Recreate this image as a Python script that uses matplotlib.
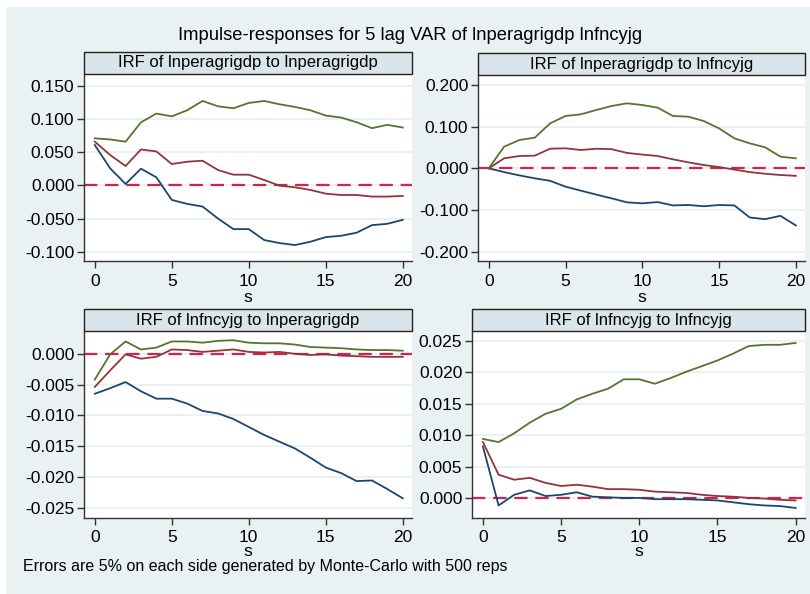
import numpy as np
import matplotlib
matplotlib.use('Agg')
import matplotlib.pyplot as plt
from matplotlib.patches import Rectangle

plt.rcParams['font.family'] = ['Liberation Sans', 'DejaVu Sans']

steps = list(range(21))

# panel 1: lnperagrigdp -> lnperagrigdp
p1_lo = [0.0607, 0.0255, 0.002, 0.025, 0.012, -0.022, -0.028, -0.032, -0.050, -0.066, -0.066,
         -0.0824, -0.087, -0.090, -0.085, -0.078, -0.076, -0.0714, -0.060, -0.058, -0.052]
p1_irf = [0.0657, 0.0456, 0.029, 0.054, 0.051, 0.032, 0.0355, 0.037, 0.023, 0.016, 0.016,
          0.008, -0.0006, -0.003, -0.007, -0.0126, -0.0146, -0.0146, -0.017, -0.017, -0.016]
p1_hi = [0.0707, 0.069, 0.0657, 0.0948, 0.108, 0.1038, 0.113, 0.127, 0.119, 0.116, 0.124,
         0.127, 0.122, 0.118, 0.113, 0.105, 0.102, 0.095, 0.086, 0.091, 0.087]

# panel 2: lnperagrigdp -> lnfncyjg
p2_lo = [0.0, -0.009, -0.017, -0.024, -0.030, -0.044, -0.0536, -0.063, -0.072, -0.0816, -0.084,
         -0.081, -0.089, -0.088, -0.091, -0.088, -0.089, -0.118, -0.122, -0.114, -0.137]
p2_irf = [0.0, 0.024, 0.0296, 0.0304, 0.0472, 0.048, 0.044, 0.047, 0.046, 0.037, 0.033,
          0.0296, 0.0216, 0.0144, 0.008, 0.003, -0.003, -0.009, -0.013, -0.016, -0.018]
p2_hi = [0.0, 0.052, 0.068, 0.0736, 0.108, 0.1256, 0.1296, 0.140, 0.1496, 0.156, 0.152,
         0.1456, 0.1256, 0.124, 0.1136, 0.096, 0.072, 0.060, 0.0504, 0.028, 0.024]

# panel 3: lnfncyjg -> lnperagrigdp
p3_lo = [-0.0065, -0.0056, -0.0046, -0.0061, -0.0073, -0.0073, -0.0081, -0.0093, -0.0097, -0.0106, -0.0119,
         -0.0132, -0.0143, -0.0154, -0.0169, -0.0185, -0.0194, -0.0207, -0.0206, -0.0220, -0.0235]
p3_irf = [-0.0054, -0.0027, -0.0001, -0.0008, -0.0005, 0.0007, 0.0006, 0.0003, 0.0005, 0.0007, 0.0003,
          0.0002, 0.0003, 0.0, -0.0002, -0.0001, -0.0003, -0.0004, -0.0005, -0.0005, -0.0005]
p3_hi = [-0.0042, -0.0001, 0.002, 0.0007, 0.001, 0.002, 0.002, 0.0018, 0.0021, 0.0022, 0.0018,
         0.0017, 0.0017, 0.0015, 0.0011, 0.001, 0.0009, 0.0007, 0.0006, 0.0006, 0.0005]

# panel 4: lnfncyjg -> lnfncyjg
p4_lo = [0.0082, -0.0012, 0.0005, 0.0012, 0.0003, 0.0005, 0.0009, 0.0002, 0.0001, 0.0, 0.0,
         -0.0002, -0.0002, -0.0002, -0.0003, -0.0004, -0.0007, -0.0010, -0.0012, -0.0013, -0.0016]
p4_irf = [0.0089, 0.0037, 0.0029, 0.0032, 0.0024, 0.0019, 0.0021, 0.0018, 0.0014, 0.0014, 0.0013,
          0.0010, 0.0009, 0.0008, 0.0005, 0.0003, 0.0002, 0.0, -0.0001, -0.0003, -0.0004]
p4_hi = [0.0094, 0.0089, 0.0103, 0.0120, 0.0134, 0.0142, 0.0157, 0.0166, 0.0174, 0.0189, 0.0189,
         0.0182, 0.0191, 0.0201, 0.0210, 0.0219, 0.0230, 0.0242, 0.0244, 0.0244, 0.0247]

titles = ['IRF of lnperagrigdp to lnperagrigdp', 'IRF of lnperagrigdp to lnfncyjg',
          'IRF of lnfncyjg to lnperagrigdp', 'IRF of lnfncyjg to lnfncyjg']
yticks = [[-0.100, -0.050, 0.000, 0.050, 0.100, 0.150],
          [-0.200, -0.100, 0.000, 0.100, 0.200],
          [-0.025, -0.020, -0.015, -0.010, -0.005, 0.000],
          [0.000, 0.005, 0.010, 0.015, 0.020, 0.025]]
ylims = [(-0.114, 0.1676), (-0.2224, 0.224), (-0.0267, 0.0037), (-0.0032, 0.0266)]
series = [(p1_lo, p1_irf, p1_hi), (p2_lo, p2_irf, p2_hi),
          (p3_lo, p3_irf, p3_hi), (p4_lo, p4_irf, p4_hi)]
# pixel boxes of plot areas: left, top, right, bottom
boxes = [(84, 74, 412, 261), (478, 75, 805, 261), (84, 331, 412, 518), (472, 331, 805, 518)]

W, H = 810, 594
bg = '#eaf1f3'
navy, maroon, green = '#1a476f', '#90353b', '#55752f'

fig = plt.figure(figsize=(W / 100, H / 100), dpi=100, facecolor='white')
fig.patches.append(Rectangle((6 / W, 0), 1 - 6 / W, 1 - 7 / H, transform=fig.transFigure,
                             facecolor=bg, edgecolor='none', zorder=-10))

for i in range(4):
    l, t, r, b = boxes[i]
    ax = fig.add_axes([l / W, 1 - b / H, (r - l) / W, (b - t) / H])
    ax.set_facecolor('white')
    lo, irf, hi = series[i]
    ax.plot(steps, lo, color=navy, lw=1.3)
    ax.plot(steps, irf, color=maroon, lw=1.3)
    ax.plot(steps, hi, color=green, lw=1.3)
    ax.axhline(0, color='#d6204d', lw=1.6, ls=(0, (6, 3.5)), zorder=1)
    ax.set_xlim(-0.7, 20.6)
    ax.set_ylim(*ylims[i])
    ax.set_xticks([0, 5, 10, 15, 20])
    ax.set_yticks(yticks[i])
    ax.set_yticklabels(['%.3f' % v for v in yticks[i]])
    ax.yaxis.grid(True, color=bg, lw=1.5)
    ax.set_axisbelow(True)
    for s in ['top', 'right']:
        ax.spines[s].set_visible(False)
    for s in ['left', 'bottom']:
        ax.spines[s].set_color('#333333')
        ax.spines[s].set_linewidth(1.0)
    ax.tick_params(labelsize=12.5, length=5, width=1.0, color='#333333', pad=2)
    ax.tick_params(axis='x', pad=4)
    ax.set_xlabel('s', fontsize=12.5, labelpad=1 if i < 2 else -1)
    hh = 22 / (b - t)
    ax.add_patch(Rectangle((0, 1), 1, hh, transform=ax.transAxes, facecolor='#d9e5ea',
                           edgecolor='#222222', lw=1.0, clip_on=False))
    ax.text(0.5, 1 + hh / 2, titles[i], transform=ax.transAxes, ha='center', va='center',
            fontsize=12)

fig.text(410 / W, 1 - 35 / H, 'Impulse-responses for 5 lag VAR of lnperagrigdp lnfncyjg',
         ha='center', va='center', fontsize=13.2)
fig.text(23 / W, 1 - 567 / H, 'Errors are 5% on each side generated by Monte-Carlo with 500 reps',
         ha='left', va='center', fontsize=11.5)

fig.savefig('out.png', dpi=100, facecolor=fig.get_facecolor())
